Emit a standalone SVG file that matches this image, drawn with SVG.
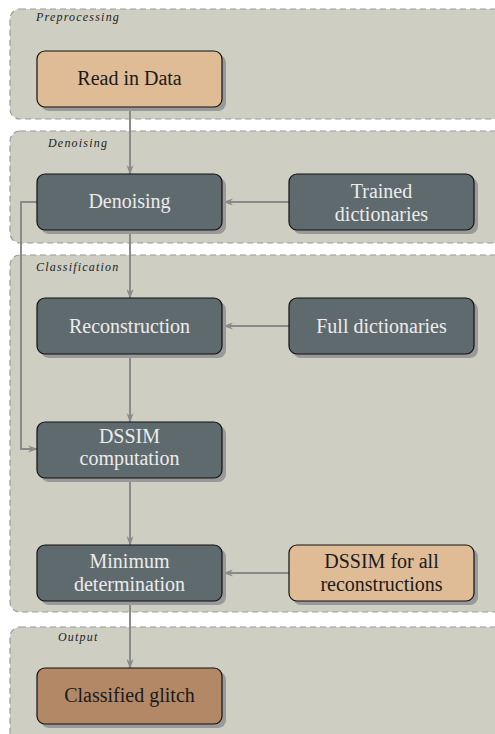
<svg xmlns="http://www.w3.org/2000/svg" width="495" height="734" viewBox="0 0 495 734">
<defs>
<style>
.panel{fill:#cecfc2;stroke:#999;stroke-width:1.2;stroke-dasharray:6 4}
.plabel{font-family:'Liberation Serif','DejaVu Serif',serif;font-style:italic;font-size:12px;letter-spacing:1.2px;fill:#222}
.shadow{fill:#999}
.box{stroke:#111;stroke-width:1.2}
.dark{fill:#5f6a6e}
.peach{fill:#dfbc95}
.brown{fill:#b38867}
.t{font-family:'Liberation Serif','DejaVu Serif',serif;font-size:20px;text-anchor:middle}
.tl{fill:#ececec}
.td{fill:#1a1a1a}
.conn{fill:none;stroke:#8a8a8a;stroke-width:2}
</style>
<marker id="ah" viewBox="0 0 10 10" refX="9" refY="5" markerWidth="5" markerHeight="5" orient="auto" markerUnits="strokeWidth">
<path d="M0,1.5 L10,5 L0,8.5 L3,5 Z" fill="#8a8a8a"/>
</marker>
</defs>
<rect width="495" height="734" fill="#fff"/>
<g id="panel-preprocessing">
<rect class="panel" x="10" y="9" width="500" height="110" rx="10"/>
<text class="plabel" x="36" y="21">Preprocessing</text>
</g>
<g id="panel-denoising">
<rect class="panel" x="10" y="131" width="500" height="112" rx="10"/>
<text class="plabel" x="48" y="147">Denoising</text>
</g>
<g id="panel-classification">
<rect class="panel" x="10" y="255" width="500" height="357" rx="10"/>
<text class="plabel" x="36" y="271">Classification</text>
</g>
<g id="panel-output">
<rect class="panel" x="10" y="627" width="500" height="130" rx="10"/>
<text class="plabel" x="58" y="641">Output</text>
</g>
<g id="connectors">
<path class="conn" d="M130,107 V174" marker-end="url(#ah)"/>
<path class="conn" d="M289,202 H224" marker-end="url(#ah)"/>
<path class="conn" d="M130,229 V298" marker-end="url(#ah)"/>
<path class="conn" d="M289,326 H224" marker-end="url(#ah)"/>
<path class="conn" d="M130,354 V422" marker-end="url(#ah)"/>
<path class="conn" d="M37,202 H21 V449 H37" marker-end="url(#ah)"/>
<path class="conn" d="M130,477 V545" marker-end="url(#ah)"/>
<path class="conn" d="M289,573 H224" marker-end="url(#ah)"/>
<path class="conn" d="M130,601 V668" marker-end="url(#ah)"/>
</g>
<g id="read-in-data">
<rect class="shadow" x="41" y="55" width="185" height="56" rx="8"/>
<rect class="box peach" x="37" y="51" width="185" height="56" rx="8"/>
<text class="t td" x="129.5" y="85">Read in Data</text>
</g>
<g id="denoising">
<rect class="shadow" x="41" y="178" width="185" height="56" rx="8"/>
<rect class="box dark" x="37" y="174" width="185" height="56" rx="8"/>
<text class="t tl" x="129.5" y="208">Denoising</text>
</g>
<g id="trained-dictionaries">
<rect class="shadow" x="293" y="178" width="185" height="56" rx="8"/>
<rect class="box dark" x="289" y="174" width="185" height="56" rx="8"/>
<text class="t tl" x="381.5" y="198">Trained</text>
<text class="t tl" x="381.5" y="221">dictionaries</text>
</g>
<g id="reconstruction">
<rect class="shadow" x="41" y="302" width="185" height="56" rx="8"/>
<rect class="box dark" x="37" y="298" width="185" height="56" rx="8"/>
<text class="t tl" x="129.5" y="333">Reconstruction</text>
</g>
<g id="full-dictionaries">
<rect class="shadow" x="293" y="302" width="185" height="56" rx="8"/>
<rect class="box dark" x="289" y="298" width="185" height="56" rx="8"/>
<text class="t tl" x="381.5" y="333">Full dictionaries</text>
</g>
<g id="dssim-computation">
<rect class="shadow" x="41" y="426" width="185" height="56" rx="8"/>
<rect class="box dark" x="37" y="422" width="185" height="56" rx="8"/>
<text class="t tl" x="129.5" y="443">DSSIM</text>
<text class="t tl" x="129.5" y="465">computation</text>
</g>
<g id="minimum-determination">
<rect class="shadow" x="41" y="549" width="185" height="56" rx="8"/>
<rect class="box dark" x="37" y="545" width="185" height="56" rx="8"/>
<text class="t tl" x="129.5" y="568">Minimum</text>
<text class="t tl" x="129.5" y="591">determination</text>
</g>
<g id="dssim-all">
<rect class="shadow" x="293" y="549" width="185" height="56" rx="8"/>
<rect class="box peach" x="289" y="545" width="185" height="56" rx="8"/>
<text class="t td" x="381.5" y="568">DSSIM for all</text>
<text class="t td" x="381.5" y="591">reconstructions</text>
</g>
<g id="classified-glitch">
<rect class="shadow" x="41" y="672" width="185" height="56" rx="8"/>
<rect class="box brown" x="37" y="668" width="185" height="56" rx="8"/>
<text class="t td" x="129.5" y="702">Classified glitch</text>
</g>
</svg>
